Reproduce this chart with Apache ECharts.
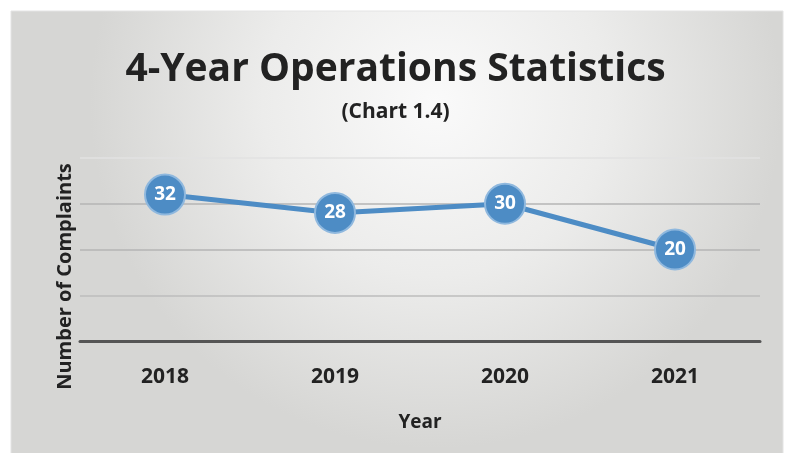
<!DOCTYPE html>
<html><head><meta charset="utf-8">
<script src="https://cdn.jsdelivr.net/npm/echarts@6/dist/echarts.min.js"></script>
<style>html,body{margin:0;padding:0;background:#fff;}#c{width:791px;height:453px;}</style>
</head><body><div id="c"></div>
<script>
const years = ['2018', '2019', '2020', '2021'];
const complaints = [32, 28, 30, 20];
const yTicks = [0, 10, 20, 30, 40];

const chart = echarts.init(document.getElementById('c'));
const font = '"Open Sans", "Noto Sans", sans-serif';
chart.setOption({
  animation: false,
  backgroundColor: '#ffffff',
  graphic: [{
    type: 'rect', z: -10, silent: true,
    shape: { x: 11, y: 11, width: 772, height: 460 },
    style: {
      fill: new echarts.graphic.RadialGradient(0.55, 0.2, 0.75, [
        { offset: 0, color: '#fafafa' },
        { offset: 0.5, color: '#ececeb' },
        { offset: 1, color: '#d6d6d4' }
      ]),
      stroke: '#e4e4e4', lineWidth: 1
    }
  }],
  title: {
    text: '4-Year Operations Statistics',
    subtext: '(Chart 1.4)',
    left: 'center', top: 45, itemGap: 13,
    textStyle: { fontFamily: font, fontWeight: 'bold', fontSize: 39, color: '#222' },
    subtextStyle: { fontFamily: font, fontWeight: 'bold', fontSize: 21, color: '#222' }
  },
  grid: { left: 80, right: 31, top: 158, bottom: 112 },
  xAxis: {
    type: 'category', data: years,
    name: 'Year', nameLocation: 'middle', nameGap: 72,
    nameTextStyle: { fontFamily: font, fontWeight: 'bold', fontSize: 19, color: '#222' },
    axisLine: { lineStyle: { color: '#555', width: 3 } },
    axisTick: { show: false },
    axisLabel: { fontFamily: font, fontWeight: 'bold', fontSize: 21, color: '#222', margin: 26 }
  },
  yAxis: {
    type: 'value', min: yTicks[0], max: yTicks[yTicks.length - 1], interval: 10,
    name: 'Number of Complaints', nameLocation: 'middle', nameGap: 5,
    nameTextStyle: { fontFamily: font, fontWeight: 'bold', fontSize: 20, color: '#222', padding: [0, 54, 0, 0] },
    axisLabel: { show: false },
    axisLine: { show: false }, axisTick: { show: false },
    splitLine: { lineStyle: { color: ['#ccc', '#bdbdbd', '#b5b5b5', '#b5b5b5', '#e2e2e2'], width: 1.5 } }
  },
  series: [{
    type: 'line', data: complaints,
    symbol: 'circle', symbolSize: 40,
    lineStyle: { color: '#4d8cc5', width: 5 },
    itemStyle: { color: '#4d8cc5', borderColor: '#8fb8de', borderWidth: 2 },
    label: { show: true, position: 'inside', color: '#fff', fontFamily: font, fontWeight: 'bold', fontSize: 19 }
  }]
});
</script></body></html>
